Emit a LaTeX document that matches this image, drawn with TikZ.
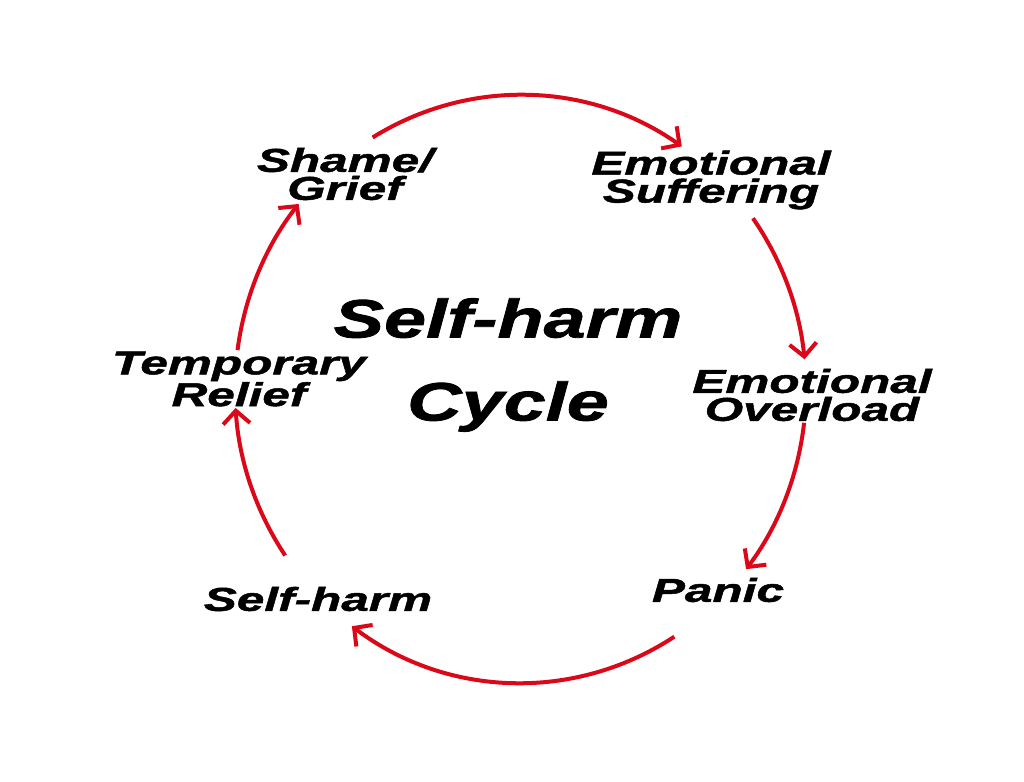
\documentclass[tikz,border=0pt]{standalone}
\usepackage{fontspec}
\usetikzlibrary{arrows.meta,calc}
\newfontfamily\lblfont[FakeStretch=1.5,FakeBold=1.5]{Liberation Sans}
\newfontfamily\ttlfont[FakeStretch=1.4,FakeBold=1.5]{Liberation Sans}
\definecolor{cycred}{RGB}{218,8,24}
\begin{document}
\begin{tikzpicture}[x=1pt,y=1pt,
  lbl/.style={align=center,inner sep=0pt,font=\lblfont\bfseries\itshape\fontsize{33}{28}\selectfont},
  ttl/.style={align=center,inner sep=0pt,font=\ttlfont\bfseries\itshape\fontsize{54}{83}\selectfont},
  cyc/.style={draw=cycred,line width=4pt,-{Straight Barb[length=13pt,width=27pt,line width=4pt]}}]
\useasboundingbox[fill=white] (0,0) rectangle (1024,781);
\coordinate (c) at (520.5,392);
% labels
\node[lbl] (shame) at (345,607) {Shame/\\Grief};
\node[lbl] (suff) at (711,601) {Emotional\\Suffering};
\node[lbl] (over) at (812,386) {Emotional\\Overload};
\node[lbl] (panic) at (718,191) {Panic};
\node[lbl] (harm) at (318,182) {Self-harm};
\node[lbl] (relief) at (239,402) {Temporary\\Relief};
\node[ttl] (title) at (508,416) {Self-harm\\Cycle};
% arcs
\coordinate (a1) at ($(c)+(121.2:285.5 and 294)$);
\coordinate (a2) at ($(c)+(35.5:285.5 and 294)$);
\coordinate (a3) at ($(c)+(-6.6:285.5 and 294)$);
\coordinate (a4) at ($(c)+(-57.4:285.5 and 294)$);
\coordinate (a5) at ($(c)+(214.5:285.5 and 294)$);
\coordinate (a6) at ($(c)+(172.4:285.5 and 294)$);
\draw[cyc] (a1) arc[start angle=121.2,end angle=55.6,x radius=285.5,y radius=294];
\draw[cyc] (a2) arc[start angle=35.5,end angle=5.8,x radius=285.5,y radius=294];
\draw[cyc] (a3) arc[start angle=-6.6,end angle=-37.8,x radius=285.5,y radius=294];
\draw[cyc] (a4) arc[start angle=-57.4,end angle=-126.2,x radius=285.5,y radius=294];
\draw[cyc] (a5) arc[start angle=214.5,end angle=183.7,x radius=285.5,y radius=294];
\draw[cyc] (a6) arc[start angle=172.4,end angle=141,x radius=285.5,y radius=294];
\end{tikzpicture}
\end{document}
